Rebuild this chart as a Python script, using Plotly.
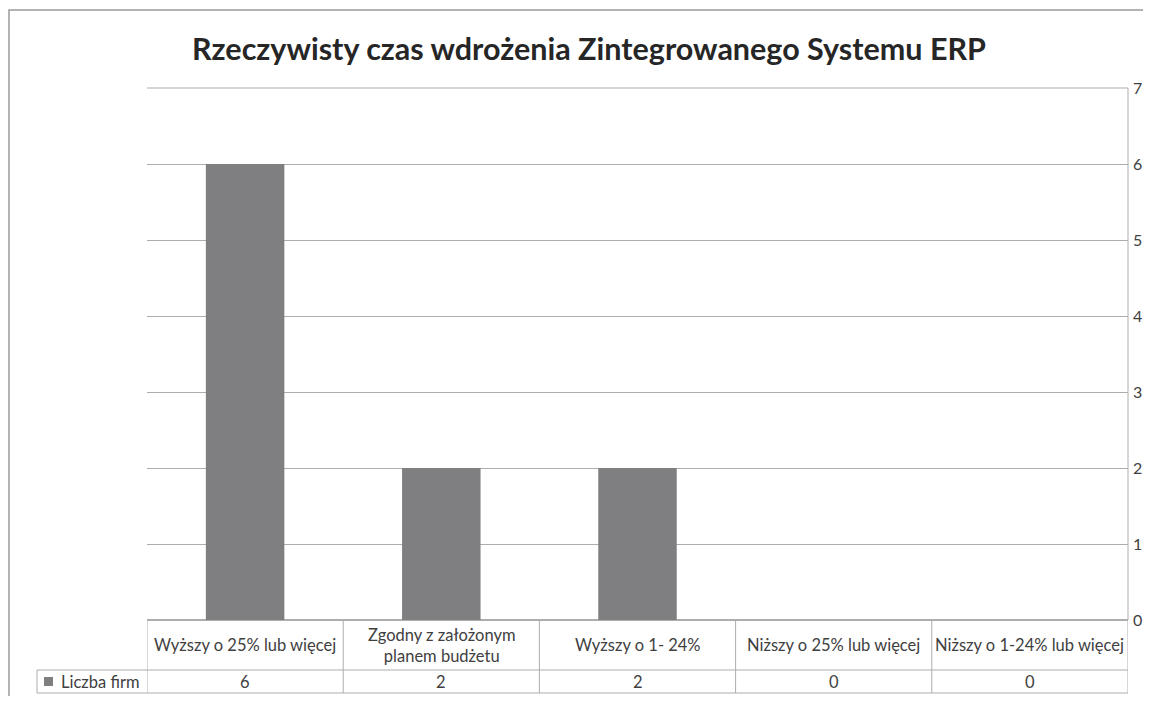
import plotly.graph_objects as go

categories = ["Wyższy o 25% lub więcej", "Zgodny z założonym<br>planem budżetu",
              "Wyższy o 1- 24%", "Niższy o 25% lub więcej", "Niższy o 1-24% lub więcej"]
values = [6, 2, 2, 0, 0]
series_name = "Liczba firm"
title = "Rzeczywisty czas wdrożenia Zintegrowanego Systemu ERP"

# page body has an 8px margin; figure sized to fit inside the window
OFF = 8
W, H = 1151 - 2 * OFF, 704 - 2 * OFF
L, R, T, B = 147, 1128, 88, 620   # screen pixel positions of plot area
pw, ph = R - L, B - T

def px(xp):
    return (xp - L) / pw

def py(yp):
    return (B - yp) / ph

grid = "#adadad"
txt = "#404040"
font = "Lato"

fig = go.Figure()
xs = list(range(len(categories)))
fig.add_trace(go.Bar(x=xs, y=values, marker=dict(color="#7f7f82", line=dict(width=0)),
                     width=0.4, name=series_name, showlegend=False))

shapes = []
shapes.append(dict(type="rect", xref="paper", yref="paper", x0=px(9), x1=px(1180),
                   y0=py(740), y1=py(10), line=dict(color="#9a9a9a", width=1.5)))
row1_bot = py(670)
row2_bot = py(693)
n = len(categories)
for i in range(n + 1):
    shapes.append(dict(type="line", xref="x", yref="paper", x0=i - 0.5, x1=i - 0.5,
                       y0=row2_bot, y1=0, line=dict(color=grid, width=1)))
shapes.append(dict(type="line", xref="paper", yref="paper", x0=px(37), x1=1,
                   y0=row1_bot, y1=row1_bot, line=dict(color=grid, width=1)))
shapes.append(dict(type="line", xref="paper", yref="paper", x0=px(37), x1=1,
                   y0=row2_bot, y1=row2_bot, line=dict(color=grid, width=1)))
shapes.append(dict(type="line", xref="paper", yref="paper", x0=px(37), x1=px(37),
                   y0=row2_bot, y1=row1_bot, line=dict(color=grid, width=1)))
shapes.append(dict(type="line", xref="paper", yref="paper", x0=1, x1=1,
                   y0=0, y1=1, line=dict(color=grid, width=1)))
shapes.append(dict(type="line", xref="paper", yref="paper", x0=0, x1=1,
                   y0=1, y1=1, line=dict(color=grid, width=1)))
shapes.append(dict(type="rect", xref="paper", yref="paper", x0=px(44), x1=px(53),
                   y0=py(686), y1=py(677), fillcolor="#7f7f82", line=dict(width=0)))

annotations = []
for i, (c, v) in enumerate(zip(categories, values)):
    annotations.append(dict(x=i, y=(0 + row1_bot) / 2, xref="x", yref="paper", text=c,
                            showarrow=False, font=dict(family=font, size=16.5, color=txt),
                            xanchor="center", yanchor="middle"))
    annotations.append(dict(x=i, y=(row1_bot + row2_bot) / 2, xref="x", yref="paper", text=str(v),
                            showarrow=False, font=dict(family=font, size=16.5, color=txt),
                            xanchor="center", yanchor="middle"))
annotations.append(dict(x=px(59), y=(row1_bot + row2_bot) / 2, xref="paper", yref="paper",
                        text=series_name, showarrow=False, xanchor="left", yanchor="middle",
                        font=dict(family=font, size=16.5, color=txt)))
annotations.append(dict(x=px(589), y=py(48), xref="paper", yref="paper", text="<b>" + title + "</b>",
                        showarrow=False, xanchor="center", yanchor="middle",
                        font=dict(family=font, size=30.5, color="#262626")))

fig.update_layout(
    width=W, height=H,
    margin=dict(l=L - OFF, r=W - (R - OFF), t=T - OFF, b=H - (B - OFF), pad=0),
    paper_bgcolor="white", plot_bgcolor="white",
    shapes=shapes, annotations=annotations,
    xaxis=dict(range=[-0.5, n - 0.5], showticklabels=False, showgrid=False, zeroline=False,
               showline=False, ticks="", automargin=False),
    yaxis=dict(range=[0, 7], dtick=1, side="right", showgrid=True, gridcolor=grid, gridwidth=1,
               zeroline=True, zerolinecolor=grid, showline=False, ticks="", automargin=False,
               tickfont=dict(family=font, size=16, color=txt), ticklabelstandoff=4),
)
fig.write_html("out.html")
